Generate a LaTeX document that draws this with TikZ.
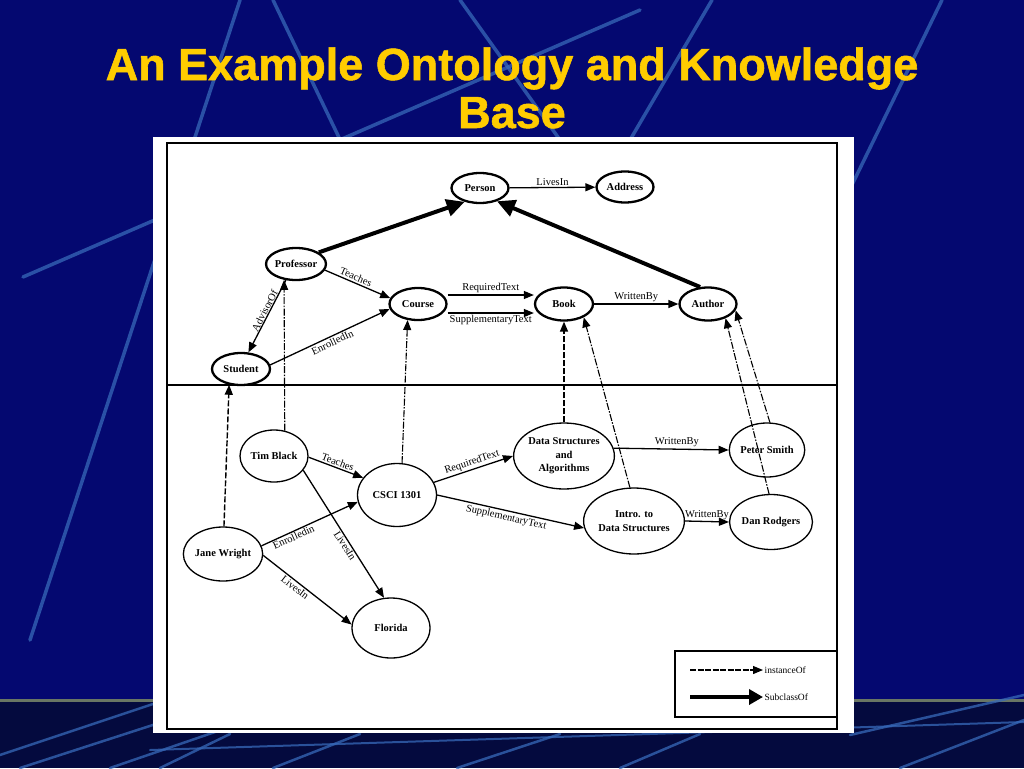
\documentclass[tikz,border=0pt]{standalone}
\usepackage{fontspec}
\setmainfont{Liberation Serif}
\newfontfamily\titlefont[BoldFeatures={FakeBold=1.2}]{Liberation Sans}
\usetikzlibrary{shapes.geometric,arrows.meta,calc}
\definecolor{bgnavy}{RGB}{4,8,112}
\definecolor{bgdark}{RGB}{4,10,62}
\definecolor{streak}{RGB}{55,105,185}
\definecolor{titleyellow}{RGB}{255,204,0}
\definecolor{bandline}{RGB}{105,118,100}
\begin{document}
\begin{tikzpicture}[x=1pt,y=-1pt,
  cls/.style={ellipse, draw, line width=2.3pt, inner sep=0pt, font=\bfseries\fontsize{10.5}{13}\selectfont},
  inst/.style={ellipse, draw, line width=1.3pt, inner sep=0pt, align=center, font=\bfseries\fontsize{10.5}{13.5}\selectfont},
  rel/.style={line width=1.3pt, -{Triangle[length=10pt,width=8pt]}},
  iof/.style={line width=1.1pt, dash pattern=on 7pt off 1.5pt on 1.5pt off 1.5pt, -{Triangle[length=10pt,width=8pt]}},
  sub/.style={line width=4pt, -{Triangle[length=18pt,width=17pt]}},
  lab/.style={font=\fontsize{10.5}{12}\selectfont, inner sep=1.5pt},
  streakline/.style={draw=streak, line width=3.5pt, line cap=round, opacity=0.75},
  titletext/.style={font=\titlefont\bfseries\fontsize{45}{50}\selectfont, anchor=base, inner sep=0pt},
]
\useasboundingbox (0,0) rectangle (1024,768);
% background
\fill[bgnavy] (0,0) rectangle (1024,768);
\fill[bgdark] (0,700) rectangle (1024,768);
\draw[streakline] (240,0) -- (30,640);
\draw[streakline] (273,0) -- (345,150);
\draw[streakline] (23,277) -- (640,10);
\draw[streakline] (460,0) -- (560,140);
\draw[streakline] (712,0) -- (630,140);
\draw[streakline] (942,0) -- (830,230);
\draw[draw=bandline, line width=3pt] (0,700) -- (1024,700);
\draw[streakline, line width=2.5pt] (0,755) -- (153,704);
\draw[streakline, line width=2.5pt] (20,768) -- (230,700);
\draw[streakline, line width=2.5pt] (110,768) -- (250,720);
\draw[streakline, line width=2.5pt] (160,768) -- (230,734);
\draw[streakline, line width=2.5pt] (273,768) -- (360,734);
\draw[streakline, line width=2.5pt] (457,768) -- (560,734);
\draw[streakline, line width=2.5pt] (620,768) -- (700,734);
\draw[streakline, line width=2.5pt] (850,735) -- (1024,695);
\draw[streakline, line width=2.5pt] (900,768) -- (1024,720);
\draw[streakline, line width=2pt] (150,750) -- (1024,722);
% title
\node[titletext, text=titleyellow] (title1) at (512,80) {An Example Ontology and Knowledge};
\node[titletext, text=titleyellow] (title2) at (512,128) {Base};
% figure frame
\fill[white] (153,137) rectangle (854,733);
\draw[line width=2pt] (167,143) rectangle (837,729);
\draw[line width=2.5pt] (167,385) -- (837,385);
% class nodes
\node[cls, minimum width=57pt, minimum height=30pt] (person) at (480,188) {Person};
\node[cls, minimum width=57pt, minimum height=31pt] (address) at (625,187) {Address};
\node[cls, minimum width=58pt, minimum height=32pt] (professor) at (296,264) {Professor};
\node[cls, minimum width=57pt, minimum height=32pt] (course) at (418,304) {Course};
\node[cls, minimum width=58pt, minimum height=33pt] (book) at (564,304) {Book};
\node[cls, minimum width=57pt, minimum height=33pt] (author) at (708,304) {Author};
\node[cls, minimum width=58pt, minimum height=32pt] (student) at (241,369) {Student};
% instance nodes
\node[inst, minimum width=68pt, minimum height=52pt] (tim) at (274,456) {Tim Black};
\node[inst, minimum width=79pt, minimum height=63pt] (csci) at (397,495) {CSCI 1301};
\node[inst, minimum width=68pt, minimum height=54pt] (jane) at (223,554) {Jane Wright};
\node[inst, minimum width=78pt, minimum height=60pt] (florida) at (391,628) {Florida};
\node[inst, minimum width=89pt, minimum height=66pt] (dsa) at (564,456) {Data Structures\\and\\Algorithms};
\node[inst, minimum width=74pt, minimum height=54pt] (peter) at (767,450) {Peter Smith};
\node[inst, minimum width=86pt, minimum height=66pt] (intro) at (634,521) {Intro. to\\Data Structures};
\node[inst, minimum width=71pt, minimum height=55pt] (dan) at (771,522) {Dan Rodgers};
% subclass edges
\draw[sub] (professor.27) -- (person.222);
\draw[sub] (author.115) -- (person.322);
% ontology relations
\draw[rel] (person) -- (address) node[lab, midway, above] {LivesIn};
\draw[rel] (professor.348) -- (course.168) node[lab, pos=0.44, sloped, above] {Teaches};
\draw[rel] (professor.238) -- (student.66) node[lab, pos=0.45, sloped, above, inner sep=0.5pt] {AdvisorOf};
\draw[rel] (student.8) -- (course.190) node[lab, pos=0.5, sloped, below] {EnrolledIn};
\draw[rel] ([yshift=9pt]course.east) -- ([yshift=9pt]book.west) node[lab, midway, above] {RequiredText};
\draw[rel] ([yshift=-9pt]course.east) -- ([yshift=-9pt]book.west) node[lab, midway, below] {SupplementaryText};
\draw[rel] (book) -- (author) node[lab, midway, above] {WrittenBy};
% instanceOf edges
\draw[iof, line width=1.4pt, dash pattern=on 6pt off 2pt] (jane.88) -- (student.233);
\draw[iof] (tim.67) -- (professor.233);
\draw[iof] (csci.81) -- (course.237);
\draw[iof, line width=1.4pt, dash pattern=on 6pt off 2pt] (dsa.north) -- (book.south);
\draw[iof] (intro.97) -- (book.326);
\draw[iof] (peter.84) -- (author.347);
\draw[iof] (dan.94) -- (author.321);
% knowledge base relations
\draw[rel] (tim.358) -- (csci.153) node[lab, pos=0.5, sloped, above] {Teaches};
\draw[rel] (jane.12) -- (csci.190) node[lab, pos=0.31, sloped, below, inner sep=1pt] {Enrolledin};
\draw[rel] (tim.334) -- (florida.103) node[lab, pos=0.57, sloped, below, inner sep=1pt] {LivesIn};
\draw[rel] (jane.358) -- (florida.175) node[lab, pos=0.40, sloped, below] {LivesIn};
\draw[rel] (csci.19) -- (dsa.west) node[lab, pos=0.51, sloped, above] {RequiredText};
\draw[rel] (csci.east) -- (intro.188) node[lab, pos=0.48, sloped, below] {SupplementaryText};
\draw[rel] (dsa.9) -- (peter.west) node[lab, pos=0.55, above] {WrittenBy};
\draw[rel] (intro.east) -- (dan.west) node[lab, midway, above] {WrittenBy};
% legend
\draw[line width=1.3pt] (675,651) rectangle (837,717);
\coordinate (li) at (690,670);
\coordinate (ls) at (690,697);
\node[lab, anchor=west, font=\fontsize{9.5}{11}\selectfont] (lit) at (763,670) {instanceOf};
\node[lab, anchor=west, font=\fontsize{9.5}{11}\selectfont] (lst) at (763,697) {SubclassOf};
\draw[iof, dash pattern=on 6pt off 1.5pt] (li) -- (lit.west);
\draw[line width=4pt, -{Triangle[length=14pt,width=15pt]}] (ls) -- (lst.west);
\end{tikzpicture}
\end{document}
